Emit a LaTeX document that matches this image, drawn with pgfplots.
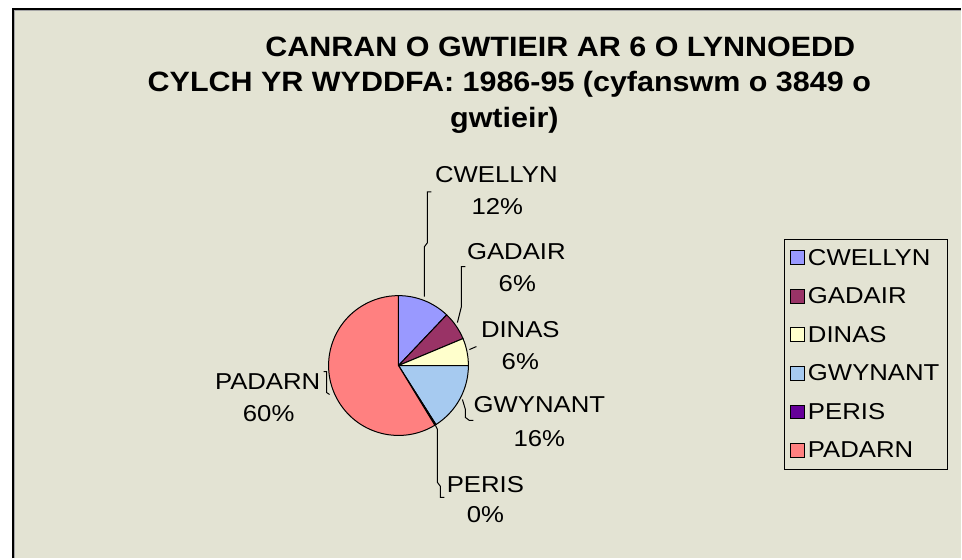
\documentclass[border=0pt]{standalone}
\usepackage{pgfplots}
\pgfplotsset{compat=1.18}
\usepackage{pgfplotstable}
\usepackage{fontspec}
\setmainfont{Liberation Sans}
\newfontfamily\lblfont[FakeStretch=1.12]{Liberation Sans}
\newfontfamily\ttlfont[FakeStretch=1.09]{Liberation Sans}
\definecolor{bg}{RGB}{227,227,211}
\definecolor{cwellyn}{RGB}{153,153,255}
\definecolor{gadair}{RGB}{153,51,102}
\definecolor{dinas}{RGB}{255,255,204}
\definecolor{gwynant}{RGB}{166,202,240}
\definecolor{peris}{RGB}{102,0,153}
\definecolor{padarn}{RGB}{255,128,128}

\pgfplotstableread{
name value color
CWELLYN 12.1 cwellyn
GADAIR 6.6 gadair
DINAS 6.3 dinas
GWYNANT 16.0 gwynant
PERIS 0.3 peris
PADARN 58.7 padarn
}\piedata

\newcommand{\lbl}{\lblfont\fontsize{23}{28}\selectfont}
\newcommand{\ttl}{\ttlfont\fontsize{28}{34}\selectfont\bfseries}

\begin{document}
\begin{tikzpicture}
\begin{axis}[
  width=962pt, height=559pt, scale only axis,
  xmin=0, xmax=962, ymin=0, ymax=559, y dir=reverse,
  axis lines=none, ticks=none, clip=false,
  legend style={at={(axis cs:785,239)}, anchor=north west, draw=black, line width=1pt,
    fill=bg, font=\lbl, row sep=21pt, inner xsep=6pt, inner ysep=10pt,
    nodes={inner xsep=2.5pt, inner ysep=0pt}},
  legend cell align=left,
  legend image code/.code={\draw[#1,draw=black,line width=1pt] (0pt,-7pt) rectangle (14pt,7pt);},
]
% background and frame
\fill[white] (axis cs:0,0) rectangle (axis cs:962,559);
\fill[bg] (axis cs:12,8) rectangle (axis cs:962,559);
\draw[black,line width=2.5pt] (axis cs:13.2,559) -- (axis cs:13.2,9.2) -- (axis cs:962,9.2);
\draw[gray!70,line width=1pt] (axis cs:15,559) -- (axis cs:15,11) -- (axis cs:962,11);

% pie slices from table
\def\angstart{90}
\pgfplotsforeachungrouped \i in {0,...,5}{%
  \pgfplotstablegetelem{\i}{value}\of\piedata \let\val\pgfplotsretval
  \pgfplotstablegetelem{\i}{color}\of\piedata \let\col\pgfplotsretval
  \pgfmathsetmacro\angend{\angstart-3.6*\val}%
  \edef\cmd{\noexpand\filldraw[fill=\col,draw=black,line width=1pt] (axis cs:399,366) -- ++(\angstart:70pt) arc[start angle=\angstart,end angle=\angend,radius=70pt] -- cycle;}%
  \cmd
  \global\let\angstart\angend
}

\addlegendimage{fill=cwellyn}\addlegendentry{CWELLYN}
\addlegendimage{fill=gadair}\addlegendentry{GADAIR}
\addlegendimage{fill=dinas}\addlegendentry{DINAS}
\addlegendimage{fill=gwynant}\addlegendentry{GWYNANT}
\addlegendimage{fill=peris}\addlegendentry{PERIS}
\addlegendimage{fill=padarn}\addlegendentry{PADARN}

% title
\node[anchor=base,font=\ttl] at (axis cs:561,57) {CANRAN O GWTIEIR AR 6 O LYNNOEDD};
\node[anchor=base,font=\ttl] at (axis cs:510,92) {CYLCH YR WYDDFA: 1986-95 (cyfanswm o 3849 o};
\node[anchor=base,font=\ttl] at (axis cs:505,128) {gwtieir)};

% data labels
\node[anchor=base,font=\lbl] at (axis cs:497,183) {CWELLYN};
\node[anchor=base,font=\lbl] at (axis cs:498,215) {12\%};
\node[anchor=base,font=\lbl] at (axis cs:517,260) {GADAIR};
\node[anchor=base,font=\lbl] at (axis cs:518,292) {6\%};
\node[anchor=base,font=\lbl] at (axis cs:521,338) {DINAS};
\node[anchor=base,font=\lbl] at (axis cs:521,370) {6\%};
\node[anchor=base,font=\lbl] at (axis cs:540,413) {GWYNANT};
\node[anchor=base,font=\lbl] at (axis cs:540,447) {16\%};
\node[anchor=base,font=\lbl] at (axis cs:486,493) {PERIS};
\node[anchor=base,font=\lbl] at (axis cs:486,523) {0\%};
\node[anchor=base,font=\lbl] at (axis cs:268,390) {PADARN};
\node[anchor=base,font=\lbl] at (axis cs:269,422) {60\%};

% leader lines
\draw[black,line width=1pt] (axis cs:432,192) -- (axis cs:428,192) -- (axis cs:428,243) -- (axis cs:425,247) -- (axis cs:425,297);
\draw[black,line width=1pt] (axis cs:466,267) -- (axis cs:462,267) -- (axis cs:462,307) -- (axis cs:458,323);
\draw[black,line width=1pt] (axis cs:470,350) -- (axis cs:477,347);
\draw[black,line width=1pt] (axis cs:463,400) -- (axis cs:466,410) -- (axis cs:466,418) -- (axis cs:470,421) -- (axis cs:474,421);
\draw[black,line width=1pt] (axis cs:436,426) -- (axis cs:438,430) -- (axis cs:438,483) -- (axis cs:441,487) -- (axis cs:441,498) -- (axis cs:445,498);
\draw[black,line width=1pt] (axis cs:324,372) -- (axis cs:327,372) -- (axis cs:327,393) -- (axis cs:330,395);
\end{axis}
\end{tikzpicture}
\end{document}
